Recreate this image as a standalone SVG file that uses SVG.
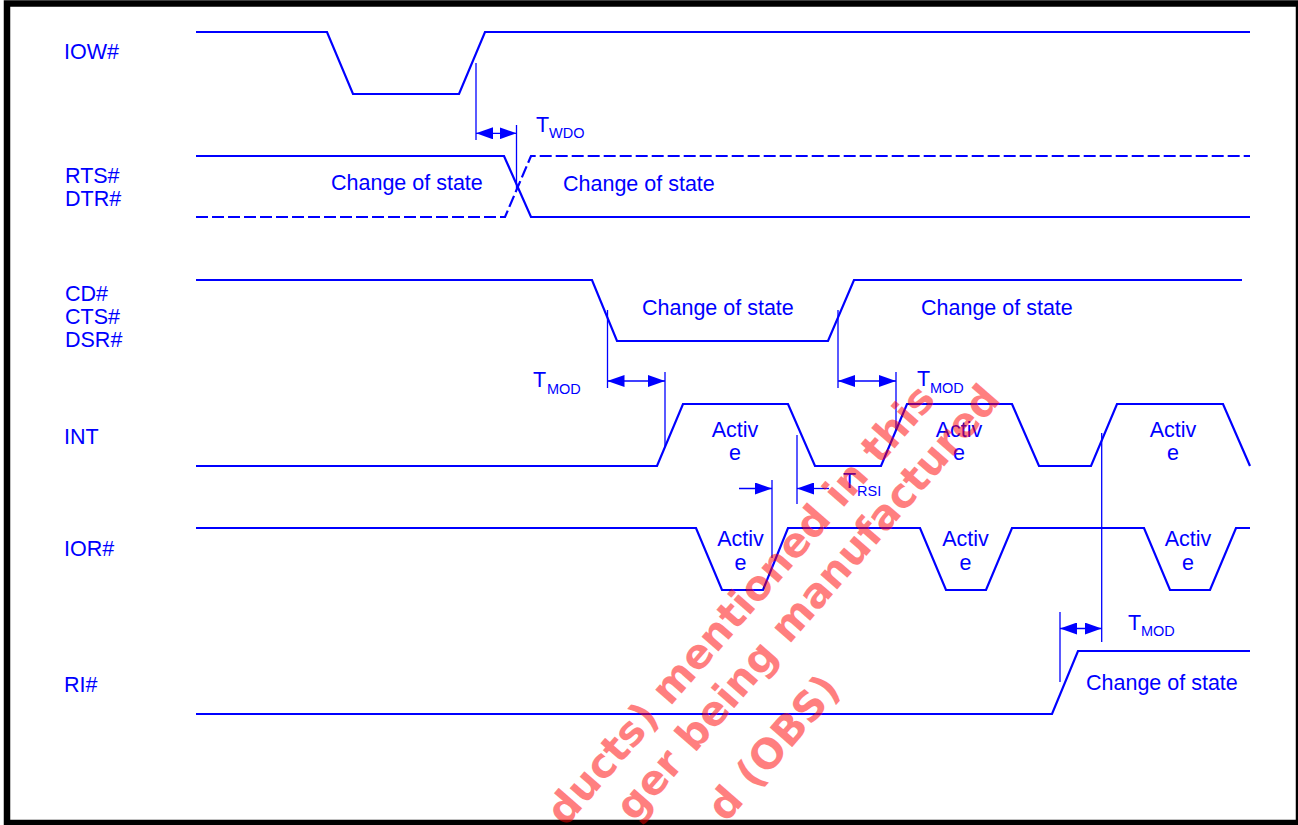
<svg xmlns="http://www.w3.org/2000/svg" width="1298" height="825" viewBox="0 0 1298 825">
<style>
.sig{fill:none;stroke:#0000FF;stroke-width:2.2;stroke-linejoin:miter}
.dash{fill:none;stroke:#0000FF;stroke-width:2.2;stroke-dasharray:12 4}
.dim{fill:none;stroke:#0000FF;stroke-width:1.3}
.arr{fill:none;stroke:#0000FF;stroke-width:1.3;marker-start:url(#ah);marker-end:url(#ah)}
.arr1{fill:none;stroke:#0000FF;stroke-width:1.3;marker-end:url(#ah)}
.lbl{font-family:"Liberation Sans",Arial,sans-serif;font-size:21.5px;fill:#0000FF}
.sub{font-family:"Liberation Sans",Arial,sans-serif;font-size:14.5px;fill:#0000FF}
.wm{font-family:"DejaVu Sans",Verdana,sans-serif;font-weight:bold;font-size:41px;fill:#FF0000;fill-opacity:0.5}
</style>
<defs>
<marker id="ah" markerUnits="userSpaceOnUse" markerWidth="17" markerHeight="12" refX="17" refY="6" orient="auto-start-reverse">
<path d="M0,0 L17,6 L0,12 Z" fill="#0000FF"/>
</marker>
</defs>
<rect x="0" y="0" width="1298" height="825" fill="#FFFFFF"/>
<rect x="7" y="3.5" width="1292" height="819.5" fill="none" stroke="#000000" stroke-width="6.5"/>

<g id="labels">
<text class="lbl" x="64" y="59">IOW#</text>
<text class="lbl" x="65" y="183">RTS#</text>
<text class="lbl" x="65" y="206">DTR#</text>
<text class="lbl" x="65" y="301">CD#</text>
<text class="lbl" x="65" y="324">CTS#</text>
<text class="lbl" x="65" y="347">DSR#</text>
<text class="lbl" x="64" y="444">INT</text>
<text class="lbl" x="64" y="556">IOR#</text>
<text class="lbl" x="64" y="692">RI#</text>
</g>

<g id="sig-iow">
<polyline class="sig" points="196,32 327,32 353,94 459,94 485,32 1250,32"/>
</g>

<g id="sig-rts">
<polyline class="sig" points="196,156 504,156 531,217 1250,217"/>
<polyline class="dash" points="196,217 505,217 531,156 1250,156"/>
<text class="lbl" x="331" y="190">Change of state</text>
<text class="lbl" x="563" y="191">Change of state</text>
</g>

<g id="sig-cd">
<polyline class="sig" points="196,280 592,280 617,341 828,341 854,280 1242,280"/>
<text class="lbl" x="642" y="315">Change of state</text>
<text class="lbl" x="921" y="315">Change of state</text>
</g>

<g id="sig-int">
<polyline class="sig" points="196,466 657,466 683,404 788,404 815,466 881,466 907,404 1012,404 1039,466 1091,466 1117,404 1223,404 1250,466"/>
<text class="lbl" x="735" y="437" text-anchor="middle">Activ</text>
<text class="lbl" x="735" y="460" text-anchor="middle">e</text>
<text class="lbl" x="959" y="437" text-anchor="middle">Activ</text>
<text class="lbl" x="959" y="460" text-anchor="middle">e</text>
<text class="lbl" x="1173" y="437" text-anchor="middle">Activ</text>
<text class="lbl" x="1173" y="460" text-anchor="middle">e</text>
</g>

<g id="sig-ior">
<polyline class="sig" points="196,528 696,528 722,590 763,590 788,528 920,528 946,590 986,590 1012,528 1144,528 1170,590 1210,590 1236,528 1250,528"/>
<text class="lbl" x="740.5" y="546" text-anchor="middle">Activ</text>
<text class="lbl" x="740.5" y="570" text-anchor="middle">e</text>
<text class="lbl" x="965.5" y="546" text-anchor="middle">Activ</text>
<text class="lbl" x="965.5" y="570" text-anchor="middle">e</text>
<text class="lbl" x="1188" y="546" text-anchor="middle">Activ</text>
<text class="lbl" x="1188" y="570" text-anchor="middle">e</text>
</g>

<g id="sig-ri">
<polyline class="sig" points="196,714 1052,714 1078,651 1250,651"/>
<text class="lbl" x="1086" y="690">Change of state</text>
</g>

<g id="connectors">
<line class="dim" x1="476" y1="63" x2="476" y2="140"/>
<line class="dim" x1="516.5" y1="125" x2="516.5" y2="190"/>
<line class="arr" x1="476" y1="133.3" x2="516.5" y2="133.3"/>

<line class="dim" x1="607.5" y1="310" x2="607.5" y2="388"/>
<line class="dim" x1="665" y1="372" x2="665" y2="447"/>
<line class="arr" x1="607.5" y1="381" x2="665" y2="381"/>

<line class="dim" x1="838" y1="310" x2="838" y2="388"/>
<line class="dim" x1="896" y1="372" x2="896" y2="430"/>
<line class="arr" x1="838" y1="381" x2="896" y2="381"/>

<line class="dim" x1="772" y1="480" x2="772" y2="558"/>
<line class="dim" x1="797" y1="435" x2="797" y2="504"/>
<line class="arr1" x1="739" y1="488.5" x2="772" y2="488.5"/>
<line class="arr1" x1="829" y1="488.5" x2="797" y2="488.5"/>

<line class="dim" x1="1060" y1="612" x2="1060" y2="682"/>
<line class="dim" x1="1101.7" y1="433" x2="1101.7" y2="642"/>
<line class="arr" x1="1060" y1="628.5" x2="1101.7" y2="628.5"/>
</g>

<g id="timing-labels">
<text class="lbl" x="536" y="131.5">T</text><text class="sub" x="549" y="138">WDO</text>
<text class="lbl" x="533" y="387">T</text><text class="sub" x="547" y="393.5">MOD</text>
<text class="lbl" x="917" y="386">T</text><text class="sub" x="930" y="393">MOD</text>
<text class="lbl" x="843" y="488">T</text><text class="sub" x="857" y="495.5">RSI</text>
<text class="lbl" x="1128" y="629.5">T</text><text class="sub" x="1141" y="636">MOD</text>
</g>

<g id="watermark">
<text class="wm" text-anchor="end" transform="translate(937,400) rotate(-49)">ducts) mentioned in this</text>
<text class="wm" text-anchor="end" transform="translate(1002,400) rotate(-49)">ger being manufactured</text>
<text class="wm" text-anchor="end" transform="translate(842,690) rotate(-49)">d (OBS)</text>
</g>
</svg>
